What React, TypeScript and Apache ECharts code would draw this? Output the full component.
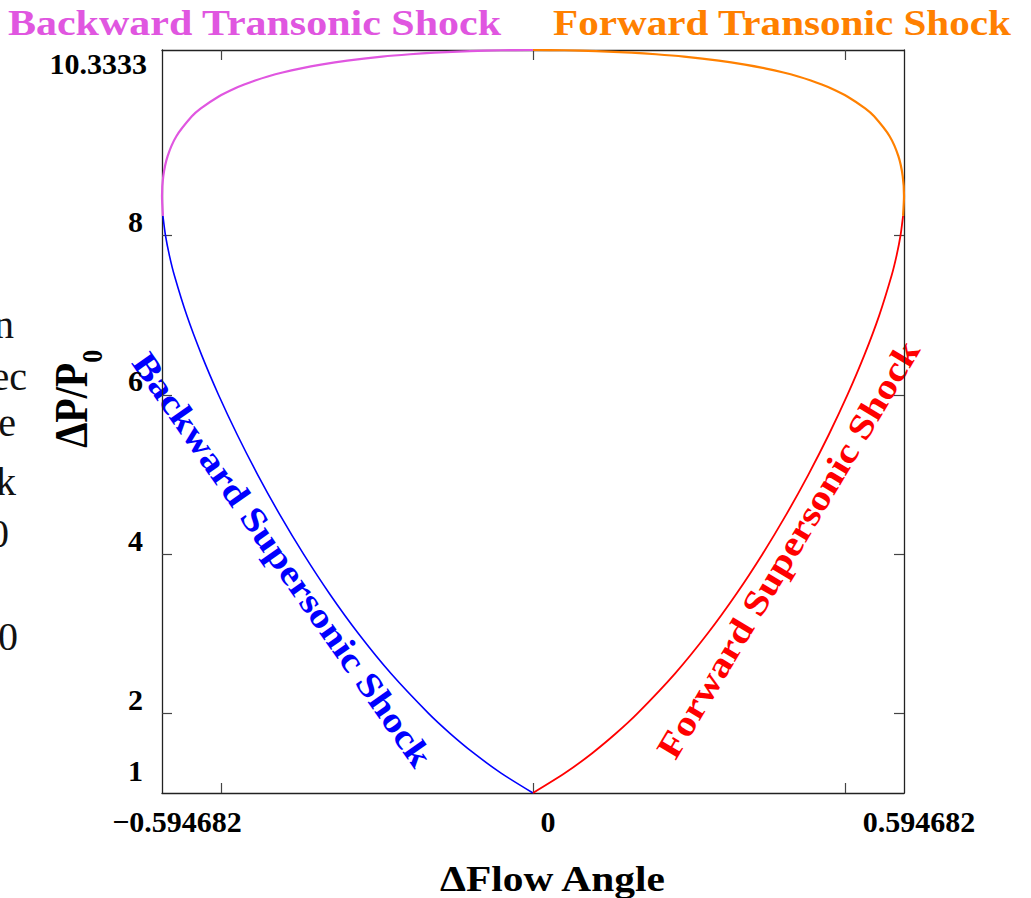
import React, { useEffect, useRef } from "react";
import * as echarts from "echarts";

const SERIF = '"Liberation Serif", "Times New Roman", serif';

const RED = "#ff0000";
const BLUE = "#0000ff";
const ORANGE = "#ff8000";
const MAGENTA = "#e056e0";

// Shock polar, M = 3, gamma = 1.4 : pressure ratio vs flow deflection (rad)
const supersonicPressure = [1, 1.25, 1.5, 1.75, 2, 2.5, 3, 3.5, 4, 4.5, 5, 5.5, 6, 6.5, 7, 7.5, 7.75, 8, 8.25];
const forwardSupersonicAngle = [
  0, 0.051214, 0.094846, 0.133145, 0.167483, 0.227598, 0.279605, 0.325865, 0.36775,
  0.406108, 0.441453, 0.474058, 0.503992, 0.531108, 0.554993, 0.574815, 0.582762, 0.58903, 0.593198,
];
const backwardSupersonicAngle = [
  0, -0.051214, -0.094846, -0.133145, -0.167483, -0.227598, -0.279605, -0.325865, -0.36775,
  -0.406108, -0.441453, -0.474058, -0.503992, -0.531108, -0.554993, -0.574815, -0.582762, -0.58903, -0.593198,
];

const transonicPressure = [
  8.25, 8.5, 8.75, 9, 9.25, 9.5, 9.6, 9.75, 9.85, 9.9, 9.95, 10, 10.05, 10.1, 10.15, 10.2, 10.25, 10.28, 10.3,
  10.32, 10.33, 10.3333,
];
const forwardTransonicAngle = [
  0.593198, 0.594682, 0.592618, 0.585654, 0.57163, 0.546794, 0.532396, 0.503778, 0.47827, 0.462896, 0.445329,
  0.42508, 0.401474, 0.37356, 0.339838, 0.29775, 0.242124, 0.197125, 0.157718, 0.100975, 0.050801, 0,
];
const backwardTransonicAngle = [
  -0.593198, -0.594682, -0.592618, -0.585654, -0.57163, -0.546794, -0.532396, -0.503778, -0.47827, -0.462896,
  -0.445329, -0.42508, -0.401474, -0.37356, -0.339838, -0.29775, -0.242124, -0.197125, -0.157718, -0.100975,
  -0.050801, 0,
];

// Axis ticks and labels
const angleMin = -0.594682;
const angleMax = 0.594682;
const xTickValues = [-0.5, 0, 0.5];
const xLabelValues = [-0.594682, 0, 0.594682];
const xLabelTexts = ["\u22120.594682", "0", "0.594682"];

const pressureMin = 1;
const pressureMax = 10.3333;
const yTickValues = [2, 4, 6, 8];
const yLabelValues = [1, 2, 4, 6, 8, 10.3333];
const yLabelTexts = ["1", "2", "4", "6", "8", "10.3333"];

// Text clipped at the left edge of the page
const marginFragments = [
  { text: "n", right: 14, baseline: 338 },
  { text: "ec", right: 27, baseline: 390 },
  { text: "e", right: 16, baseline: 436 },
  { text: "k", right: 16, baseline: 495 },
  { text: "0", right: 9, baseline: 547 },
  { text: "0", right: 18, baseline: 650 },
];

const nearestIndex = (values: number[], v: number) => {
  let best = 0;
  values.forEach((c, i) => {
    if (Math.abs(c - v) < Math.abs(values[best] - v)) best = i;
  });
  return best;
};

const pairs = (xs: number[], ys: number[]) => xs.map((x, i) => [x, ys[i]]);

const curve = (name: string, xs: number[], ys: number[], color: string, width: number) => ({
  name,
  type: "line",
  data: pairs(xs, ys),
  showSymbol: false,
  symbol: "none",
  smooth: 0.25,
  lineStyle: { color, width },
  silent: true,
});

const tickLabelFont = { fontFamily: SERIF, fontWeight: "bold" as const, fontSize: 30, color: "#000" };

const frameLine = { show: true, onZero: false, lineStyle: { color: "#222", width: 1.3 } };

const buildOption = () => {
  const xTick = { show: true, inside: true, length: 10, customValues: xTickValues, lineStyle: { color: "#444", width: 1.2 } };
  const yTick = { show: true, inside: true, length: 10, customValues: yTickValues, lineStyle: { color: "#444", width: 1.2 } };

  const boldText = (size: number, fill: string) => ({
    fontFamily: SERIF,
    fontWeight: "bold",
    fontSize: size,
    fill,
  });

  return {
    animation: false,
    backgroundColor: "#ffffff",
    grid: { left: 162, top: 50, width: 742, height: 743, containLabel: false },
    xAxis: [
      {
        type: "value",
        position: "bottom",
        min: angleMin,
        max: angleMax,
        axisLine: frameLine,
        axisTick: xTick,
        splitLine: { show: false },
        axisLabel: {
          show: true,
          customValues: xLabelValues,
          margin: 13,
          ...tickLabelFont,
          formatter: (v: number) => `{t|${xLabelTexts[nearestIndex(xLabelValues, v)]}}`,
          rich: { t: { ...tickLabelFont, padding: [0, 0, 0, 30] } },
        },
      },
      {
        type: "value",
        position: "top",
        min: angleMin,
        max: angleMax,
        axisLine: frameLine,
        axisTick: xTick,
        splitLine: { show: false },
        axisLabel: { show: false },
      },
    ],
    yAxis: [
      {
        type: "value",
        position: "left",
        min: pressureMin,
        max: pressureMax,
        axisLine: frameLine,
        axisTick: yTick,
        splitLine: { show: false },
        axisLabel: {
          show: true,
          customValues: yLabelValues,
          margin: 15,
          ...tickLabelFont,
          formatter: (v: number) => {
            const i = nearestIndex(yLabelValues, v);
            const style = i === 0 ? "lo" : i === yLabelValues.length - 1 ? "hi" : "n";
            return `{${style}|${yLabelTexts[i]}}`;
          },
          rich: {
            n: { ...tickLabelFont, padding: [0, 4, 28, 0] },
            lo: { ...tickLabelFont, padding: [0, 4, 46, 0] },
            hi: { ...tickLabelFont, padding: [26, 0, 0, 0] },
          },
        },
      },
      {
        type: "value",
        position: "right",
        min: pressureMin,
        max: pressureMax,
        axisLine: frameLine,
        axisTick: yTick,
        splitLine: { show: false },
        axisLabel: { show: false },
      },
    ],
    series: [
      curve("Backward Supersonic Shock", backwardSupersonicAngle, supersonicPressure, BLUE, 1.6),
      curve("Forward Supersonic Shock", forwardSupersonicAngle, supersonicPressure, RED, 1.8),
      curve("Forward Transonic Shock", forwardTransonicAngle, transonicPressure, ORANGE, 2.2),
      curve("Backward Transonic Shock", backwardTransonicAngle, transonicPressure, MAGENTA, 2.2),
    ],
    graphic: {
      elements: [
        {
          type: "text",
          x: 8,
          y: 23,
          scaleX: 1.2,
          silent: true,
          style: { text: "Backward Transonic Shock", ...boldText(35, MAGENTA), align: "left", verticalAlign: "middle" },
        },
        {
          type: "text",
          x: 553,
          y: 23,
          scaleX: 1.176,
          silent: true,
          style: { text: "Forward Transonic Shock", ...boldText(35, ORANGE), align: "left", verticalAlign: "middle" },
        },
        {
          type: "text",
          x: 282.5,
          y: 559.5,
          rotation: -0.961,
          scaleX: 1.16,
          silent: true,
          style: { text: "Backward Supersonic Shock", ...boldText(35, BLUE), align: "center", verticalAlign: "middle" },
        },
        {
          type: "text",
          x: 788,
          y: 549.5,
          rotation: 1.033,
          scaleX: 1.18,
          silent: true,
          style: { text: "Forward Supersonic Shock", ...boldText(35, RED), align: "center", verticalAlign: "middle" },
        },
        {
          type: "text",
          x: 440,
          y: 878,
          scaleX: 1.15,
          silent: true,
          style: { text: "\u0394Flow Angle", ...boldText(36, "#000"), align: "left", verticalAlign: "middle" },
        },
        {
          type: "group",
          x: 71.5,
          y: 398.5,
          rotation: Math.PI / 2,
          scaleY: 1.15,
          silent: true,
          children: [
            {
              type: "text",
              x: 35.75,
              y: 0,
              style: { text: "\u0394P/P", ...boldText(40, "#000"), align: "right", verticalAlign: "middle" },
            },
            {
              type: "text",
              x: 35.75,
              y: 18,
              style: { text: "0", ...boldText(26, "#000"), align: "left", verticalAlign: "middle" },
            },
          ],
        },
        ...marginFragments.map((f) => ({
          type: "text",
          x: f.right,
          y: f.baseline - 13.5,
          silent: true,
          style: {
            text: f.text,
            fontFamily: SERIF,
            fontSize: 40,
            fill: "#111",
            align: "right",
            verticalAlign: "middle",
          },
        })),
      ],
    },
  };
};

export default function App() {
  const ref = useRef<HTMLDivElement>(null);

  useEffect(() => {
    const el = ref.current;
    if (!el) return;
    const chart = echarts.init(el, undefined, { renderer: "svg" });
    chart.setOption(buildOption() as any);
    return () => chart.dispose();
  }, []);

  return (
    <div
      ref={ref}
      style={{ position: "fixed", left: 0, top: 0, width: 1031, height: 898, background: "#ffffff" }}
    />
  );
}
